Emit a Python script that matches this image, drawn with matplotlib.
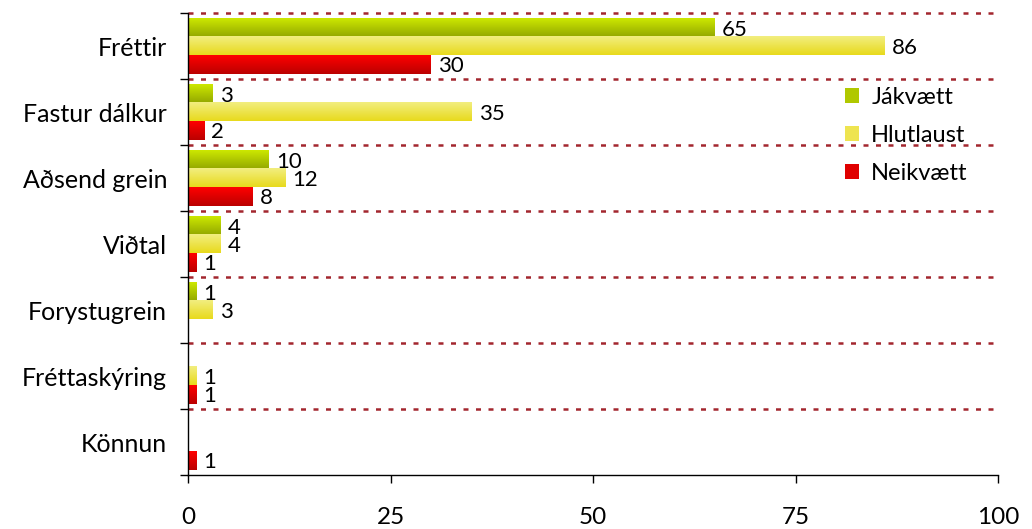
import numpy as np
import matplotlib
matplotlib.use('Agg')
import matplotlib.pyplot as plt
from matplotlib.colors import LinearSegmentedColormap
from matplotlib.patches import Patch

plt.rcParams['font.family'] = ['Lato', 'DejaVu Sans']

categories = ['Fréttir', 'Fastur dálkur', 'Aðsend grein', 'Viðtal',
              'Forystugrein', 'Fréttaskýring', 'Könnun']
series_names = ['Jákvætt', 'Hlutlaust', 'Neikvætt']
jakvaett = [65, 3, 10, 4, 1, 0, 0]
hlutlaust = [86, 35, 12, 4, 3, 1, 0]
neikvaett = [30, 2, 8, 1, 0, 1, 1]
x_ticks = [0, 25, 50, 75, 100]

# top colour -> bottom colour of each bar gradient
gradients = [('#cde800', '#93a800'), ('#f2ee80', '#e8da1c'), ('#ff0000', '#bb0000')]
legend_colors = ['#b0c800', '#eee450', '#e00000']

fig = plt.figure(figsize=(10.32, 5.29), dpi=100)
ax = fig.add_axes([188 / 1032, 1 - 475 / 529, 810 / 1032, 462 / 529])

bar_h = 0.28
offsets = [-bar_h, 0, bar_h]
grad = np.linspace(0, 1, 64).reshape(-1, 1)

for values, off, (c_top, c_bot) in zip([jakvaett, hlutlaust, neikvaett], offsets, gradients):
    cmap = LinearSegmentedColormap.from_list('g', [c_top, c_bot])
    for i, v in enumerate(values):
        if v == 0:
            continue
        y = i + off
        ax.imshow(grad, cmap=cmap, extent=(0, v, y + bar_h / 2, y - bar_h / 2),
                  aspect='auto', interpolation='bilinear', zorder=2)
        ax.text(v + 0.9, y + 0.03, str(v), va='center', ha='left', fontsize=16, zorder=3)

ax.set_xlim(0, 100)
ax.set_ylim(len(categories) - 0.5, -0.5)
ax.set_aspect('auto')

# dashed gridlines at category boundaries
for b in np.arange(-0.5, len(categories) - 1, 1):
    ax.axhline(b, color='#a3262e', lw=1.8, ls=(0, (2, 3)), zorder=1, clip_on=False)

ax.set_yticks(range(len(categories)))
ax.set_yticklabels(categories, fontsize=18)
ax.set_yticks(np.arange(-0.5, len(categories), 1), minor=True)
ax.tick_params(axis='y', which='major', length=0, pad=15)
ax.tick_params(axis='y', which='minor', length=6, width=1)
ax.set_xticks(x_ticks)
ax.tick_params(axis='x', length=6, width=1, labelsize=17.5, pad=17)

for s in ['top', 'right']:
    ax.spines[s].set_visible(False)
ax.spines['left'].set_linewidth(1)
ax.spines['bottom'].set_linewidth(1)

handles = [Patch(facecolor=c, edgecolor='none') for c in legend_colors]
fig.legend(handles, series_names, loc='upper left', bbox_to_anchor=(824 / 1032, 1 - 66 / 529),
           frameon=False, fontsize=17, handlelength=0.6, handleheight=0.6,
           labelspacing=0.72, handletextpad=0.5)

fig.savefig('out.png', dpi=100)
